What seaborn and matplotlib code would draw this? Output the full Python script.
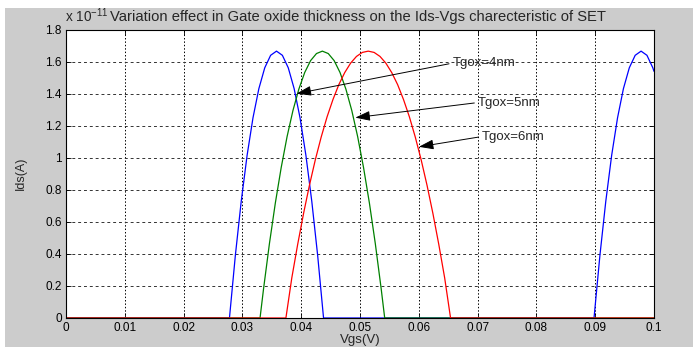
import matplotlib
matplotlib.use("Agg")
import matplotlib.pyplot as plt
import seaborn as sns
import pandas as pd
from matplotlib.patches import Rectangle

# ---- data (Ids in units of 1e-11 A) ----
blue_x = [0, 0.0278, 0.0288, 0.0298, 0.0308, 0.0318, 0.0328, 0.0338, 0.0348, 0.0358,
          0.0368, 0.0378, 0.0388, 0.0398, 0.0408, 0.0418, 0.0428, 0.0438,
          0.0898, 0.0908, 0.0918, 0.0928, 0.0938, 0.0948, 0.0958, 0.0968, 0.0978,
          0.0988, 0.0998, 0.1]
blue_y = [0, 0, 0.390, 0.728, 1.015, 1.249, 1.431, 1.561, 1.639, 1.665,
          1.639, 1.561, 1.431, 1.249, 1.015, 0.728, 0.390, 0,
          0, 0.390, 0.728, 1.015, 1.249, 1.431, 1.561, 1.639, 1.665,
          1.639, 1.561, 1.539]

green_x = [0, 0.0330, 0.0336, 0.0346, 0.0356, 0.0366, 0.0376, 0.0386, 0.0396, 0.0406,
           0.0416, 0.0426, 0.0436, 0.0446, 0.0456, 0.0466, 0.0476, 0.0486, 0.0496,
           0.0506, 0.0516, 0.0526, 0.0536, 0.0542, 0.1]
green_y = [0, 0, 0.183, 0.465, 0.717, 0.939, 1.132, 1.295, 1.428, 1.532,
           1.606, 1.650, 1.665, 1.650, 1.606, 1.532, 1.428, 1.295, 1.132,
           0.939, 0.717, 0.465, 0.183, 0, 0]

red_x = [0, 0.0374, 0.0384, 0.0394, 0.0404, 0.0414, 0.0424, 0.0434, 0.0444, 0.0454,
         0.0464, 0.0474, 0.0484, 0.0494, 0.0504, 0.0514, 0.0524, 0.0534, 0.0544,
         0.0554, 0.0564, 0.0574, 0.0584, 0.0594, 0.0604, 0.0614, 0.0624, 0.0634,
         0.0644, 0.0654, 0.1]
red_y = [0, 0, 0.250, 0.459, 0.652, 0.828, 0.987, 1.129, 1.255, 1.363,
         1.456, 1.531, 1.590, 1.632, 1.657, 1.665, 1.657, 1.632, 1.590,
         1.531, 1.456, 1.363, 1.255, 1.129, 0.987, 0.828, 0.652, 0.459,
         0.250, 0, 0]

series_names = ["Tgox=4nm", "Tgox=5nm", "Tgox=6nm"]
series_colors = ["#0000ff", "#008000", "#ff0000"]

x_ticks = [0, 0.01, 0.02, 0.03, 0.04, 0.05, 0.06, 0.07, 0.08, 0.09, 0.1]
x_tick_labels = ["0", "0.01", "0.02", "0.03", "0.04", "0.05", "0.06", "0.07", "0.08", "0.09", "0.1"]
y_ticks = [0, 0.2, 0.4, 0.6, 0.8, 1.0, 1.2, 1.4, 1.6, 1.8]
y_tick_labels = ["0", "0.2", "0.4", "0.6", "0.8", "1", "1.2", "1.4", "1.6", "1.8"]

# annotation: text position and arrow tip
annot_text_pos = [(0.0657, 1.59), (0.0700, 1.344), (0.0707, 1.132)]
annot_tip = [(0.0392, 1.40), (0.0492, 1.250), (0.0600, 1.068)]

frames = []
for name, xs, ys in zip(series_names, [blue_x, green_x, red_x], [blue_y, green_y, red_y]):
    frames.append(pd.DataFrame({"Vgs": xs, "Ids": ys, "series": name}))
df = pd.concat(frames, ignore_index=True)

sns.set_style("white")
plt.rcParams["font.family"] = ["Liberation Sans", "DejaVu Sans"]
plt.rcParams["mathtext.fontset"] = "custom"
plt.rcParams["mathtext.rm"] = "Liberation Sans"
plt.rcParams["mathtext.default"] = "regular"

fig = plt.figure(figsize=(6.93, 3.47), dpi=100, facecolor="white")
fig.patches.append(Rectangle((5 / 693, 0), 1 - 5 / 693, (347 - 8) / 347,
                             transform=fig.transFigure, facecolor="#cccccc",
                             edgecolor="none", zorder=-10))
ax = fig.add_axes([66 / 693, (347 - 318) / 347, (654 - 66) / 693, (318 - 29.5) / 347])
ax.set_facecolor("white")

sns.lineplot(data=df, x="Vgs", y="Ids", hue="series", hue_order=series_names,
             palette=series_colors, sort=False, estimator=None, units="series",
             linewidth=0.9, legend=False, ax=ax)

ax.set_xlim(0, 0.1)
ax.set_ylim(0, 1.8)
ax.set_xticks(x_ticks)
ax.set_xticklabels(x_tick_labels)
ax.set_yticks(y_ticks)
ax.set_yticklabels(y_tick_labels)
ax.tick_params(direction="in", length=3.5, width=0.6, labelsize=8.5, colors="black",
               top=True, right=True, bottom=True, left=True, pad=3)
for s in ax.spines.values():
    s.set_visible(True)
    s.set_color("black")
    s.set_linewidth(0.8)

ax.xaxis.grid(True, color="black", linestyle=(0, (1.5, 2)), linewidth=0.7)
ax.yaxis.grid(True, color="#333333", linestyle=(0, (3, 3)), linewidth=0.7)
ax.set_axisbelow(True)

ax.set_xlabel("Vgs(V)", fontsize=9.5, labelpad=0)
ax.set_ylabel("Ids(A)", fontsize=9, labelpad=13)

fig.text(358 / 693, (347 - 17) / 347, "Variation effect in Gate oxide thickness on the Ids-Vgs charecteristic of SET",
         ha="center", va="center", fontsize=10.6)
fig.text(65 / 693, (347 - 16) / 347, "x 10$^{-11}$", ha="left", va="center", fontsize=9.8)

for name, tp, tip in zip(series_names, annot_text_pos, annot_tip):
    ax.annotate(name, xy=tip, xytext=tp, fontsize=9.5, ha="left", va="center",
                arrowprops=dict(arrowstyle="-|>,head_length=0.9,head_width=0.3",
                                color="black", lw=0.7, relpos=(0, 0.5),
                                shrinkA=0, shrinkB=0, mutation_scale=10))

fig.savefig("out.png", dpi=100, facecolor=fig.get_facecolor())
